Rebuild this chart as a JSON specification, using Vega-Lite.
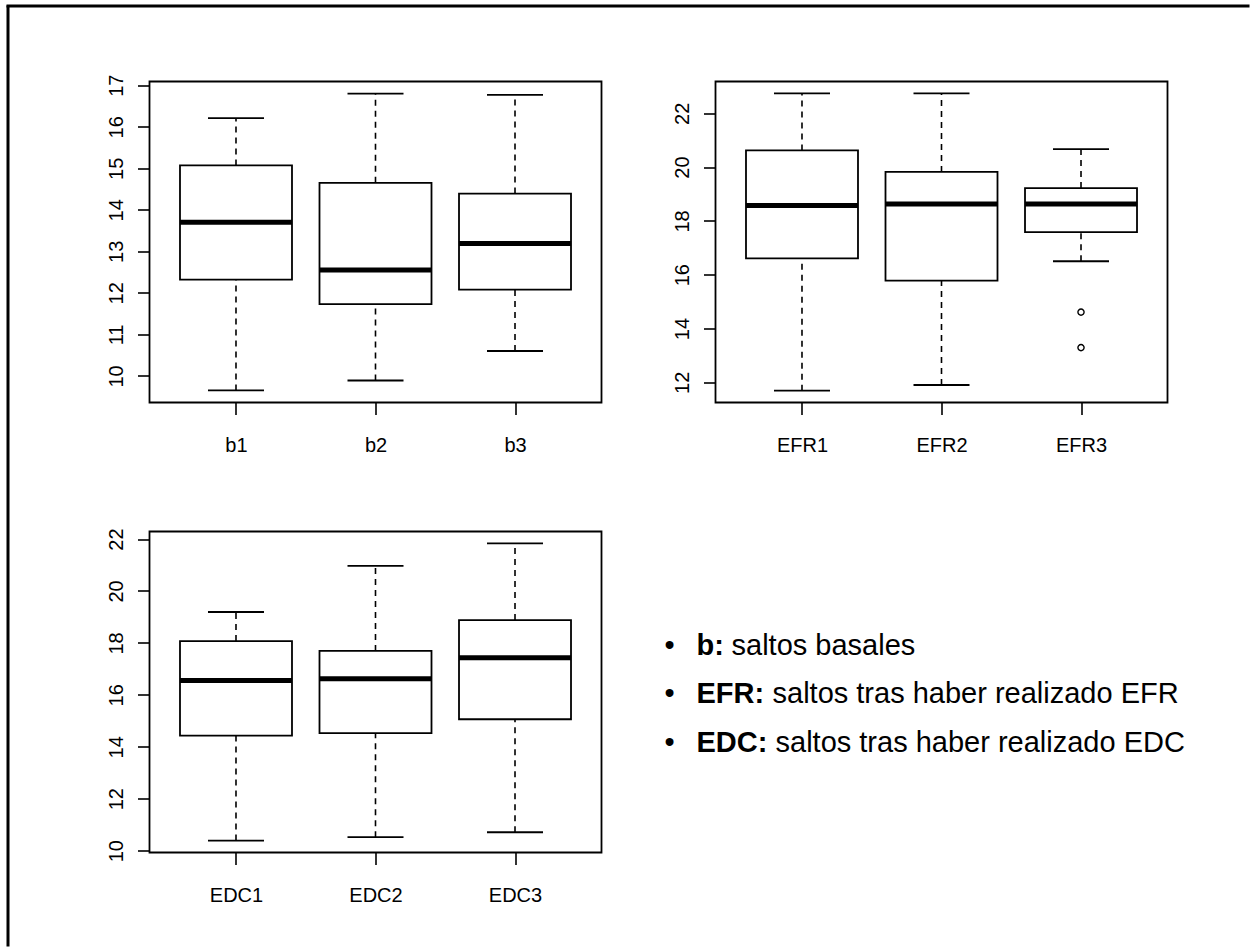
{
  "$schema": "https://vega.github.io/schema/vega-lite/v6.json",
  "padding": {"left": 6.5, "top": 4.5, "right": 0, "bottom": 0},
  "background": "white",
  "datasets": {
    "b": [
      {"group": "b1", "lo": 9.65, "q1": 12.32, "med": 13.70, "q3": 15.07, "hi": 16.21},
      {"group": "b2", "lo": 9.89, "q1": 11.73, "med": 12.55, "q3": 14.65, "hi": 16.80},
      {"group": "b3", "lo": 10.60, "q1": 12.08, "med": 13.19, "q3": 14.39, "hi": 16.77}
    ],
    "efr": [
      {"group": "EFR1", "lo": 11.69, "q1": 16.61, "med": 18.57, "q3": 20.62, "hi": 22.74},
      {"group": "EFR2", "lo": 11.90, "q1": 15.78, "med": 18.63, "q3": 19.82, "hi": 22.74},
      {"group": "EFR3", "lo": 16.50, "q1": 17.58, "med": 18.63, "q3": 19.22, "hi": 20.67}
    ],
    "efr_out": [
      {"group": "EFR3", "value": 14.61},
      {"group": "EFR3", "value": 13.29}
    ],
    "edc": [
      {"group": "EDC1", "lo": 10.39, "q1": 14.43, "med": 16.55, "q3": 18.07, "hi": 19.19},
      {"group": "EDC2", "lo": 10.52, "q1": 14.53, "med": 16.62, "q3": 17.69, "hi": 20.97},
      {"group": "EDC3", "lo": 10.71, "q1": 15.06, "med": 17.43, "q3": 18.88, "hi": 21.83}
    ],
    "notes": [
      {"line": 1, "label": "b:", "desc": "saltos basales"},
      {"line": 2, "label": "EFR:", "desc": "saltos tras haber realizado EFR"},
      {"line": 3, "label": "EDC:", "desc": "saltos tras haber realizado EDC"}
    ],
    "blank": [{"k": 0}]
  },
  "bounds": "flush",
  "spacing": 0,
  "vconcat": [
    {
      "width": 1241, "height": 1,
      "view": {"stroke": "black", "strokeWidth": 2, "fill": "black"},
      "data": {"name": "blank"},
      "mark": {"type": "point", "opacity": 0, "size": 0}
    },
    {
      "bounds": "flush",
      "spacing": 141,
      "hconcat": [
        {
          "width": 1, "height": 939,
          "view": {"stroke": "black", "strokeWidth": 2, "fill": "black"},
          "data": {"name": "blank"},
          "mark": {"type": "point", "opacity": 0, "size": 0}
        },
        {
          "bounds": "flush",
          "spacing": 74,
          "vconcat": [
            {
              "width": 1, "height": 1,
              "view": {"stroke": null, "fill": null},
              "data": {"name": "blank"},
              "mark": {"type": "point", "opacity": 0, "size": 0}
            },
            {
              "columns": 2,
              "bounds": "flush",
              "spacing": {"row": 129, "column": 114},
              "concat": [
                {
                  "width": 452, "height": 321,
                  "data": {"name": "b"},
                  "encoding": {"x": {"field": "group", "type": "nominal", "scale": {"type": "point", "padding": 0.62}, "axis": {"title": null}}},
                  "layer": [
                    {"mark": {"type": "rule", "strokeDash": [6, 5], "strokeWidth": 1.6, "color": "black"},
                     "encoding": {"y": {"field": "lo", "type": "quantitative", "scale": {"domain": [9.36, 17.09], "nice": false, "zero": false}, "axis": {"values": [10, 11, 12, 13, 14, 15, 16, 17], "title": null}}, "y2": {"field": "q1"}}},
                    {"mark": {"type": "rule", "strokeDash": [6, 5], "strokeWidth": 1.6, "color": "black"},
                     "encoding": {"y": {"field": "q3", "type": "quantitative"}, "y2": {"field": "hi"}}},
                    {"mark": {"type": "tick", "orient": "horizontal", "size": 56, "thickness": 1.8, "color": "black", "opacity": 1},
                     "encoding": {"y": {"field": "lo", "type": "quantitative"}}},
                    {"mark": {"type": "tick", "orient": "horizontal", "size": 56, "thickness": 1.8, "color": "black", "opacity": 1},
                     "encoding": {"y": {"field": "hi", "type": "quantitative"}}},
                    {"mark": {"type": "bar", "width": 112, "fill": "white", "stroke": "black", "strokeWidth": 1.8, "opacity": 1},
                     "encoding": {"y": {"field": "q1", "type": "quantitative"}, "y2": {"field": "q3"}}},
                    {"mark": {"type": "tick", "orient": "horizontal", "size": 112, "thickness": 5, "color": "black", "opacity": 1},
                     "encoding": {"y": {"field": "med", "type": "quantitative"}}}
                  ]
                },
                {
                  "width": 452, "height": 321,
                  "encoding": {"x": {"field": "group", "type": "nominal", "scale": {"type": "point", "padding": 0.62}, "axis": {"title": null}}},
                  "layer": [
                    {"data": {"name": "efr"}, "mark": {"type": "rule", "strokeDash": [6, 5], "strokeWidth": 1.6, "color": "black"},
                     "encoding": {"y": {"field": "lo", "type": "quantitative", "scale": {"domain": [11.25, 23.18], "nice": false, "zero": false}, "axis": {"values": [12, 14, 16, 18, 20, 22], "title": null}}, "y2": {"field": "q1"}}},
                    {"data": {"name": "efr"}, "mark": {"type": "rule", "strokeDash": [6, 5], "strokeWidth": 1.6, "color": "black"},
                     "encoding": {"y": {"field": "q3", "type": "quantitative"}, "y2": {"field": "hi"}}},
                    {"data": {"name": "efr"}, "mark": {"type": "tick", "orient": "horizontal", "size": 56, "thickness": 1.8, "color": "black", "opacity": 1},
                     "encoding": {"y": {"field": "lo", "type": "quantitative"}}},
                    {"data": {"name": "efr"}, "mark": {"type": "tick", "orient": "horizontal", "size": 56, "thickness": 1.8, "color": "black", "opacity": 1},
                     "encoding": {"y": {"field": "hi", "type": "quantitative"}}},
                    {"data": {"name": "efr"}, "mark": {"type": "bar", "width": 112, "fill": "white", "stroke": "black", "strokeWidth": 1.8, "opacity": 1},
                     "encoding": {"y": {"field": "q1", "type": "quantitative"}, "y2": {"field": "q3"}}},
                    {"data": {"name": "efr"}, "mark": {"type": "tick", "orient": "horizontal", "size": 112, "thickness": 5, "color": "black", "opacity": 1},
                     "encoding": {"y": {"field": "med", "type": "quantitative"}}},
                    {"data": {"name": "efr_out"}, "mark": {"type": "point", "shape": "circle", "filled": false, "size": 38, "strokeWidth": 1.4, "color": "black", "opacity": 1},
                     "encoding": {"y": {"field": "value", "type": "quantitative"}}}
                  ]
                },
                {
                  "width": 452, "height": 321,
                  "data": {"name": "edc"},
                  "encoding": {"x": {"field": "group", "type": "nominal", "scale": {"type": "point", "padding": 0.62}, "axis": {"title": null}}},
                  "layer": [
                    {"mark": {"type": "rule", "strokeDash": [6, 5], "strokeWidth": 1.6, "color": "black"},
                     "encoding": {"y": {"field": "lo", "type": "quantitative", "scale": {"domain": [9.93, 22.29], "nice": false, "zero": false}, "axis": {"values": [10, 12, 14, 16, 18, 20, 22], "title": null}}, "y2": {"field": "q1"}}},
                    {"mark": {"type": "rule", "strokeDash": [6, 5], "strokeWidth": 1.6, "color": "black"},
                     "encoding": {"y": {"field": "q3", "type": "quantitative"}, "y2": {"field": "hi"}}},
                    {"mark": {"type": "tick", "orient": "horizontal", "size": 56, "thickness": 1.8, "color": "black", "opacity": 1},
                     "encoding": {"y": {"field": "lo", "type": "quantitative"}}},
                    {"mark": {"type": "tick", "orient": "horizontal", "size": 56, "thickness": 1.8, "color": "black", "opacity": 1},
                     "encoding": {"y": {"field": "hi", "type": "quantitative"}}},
                    {"mark": {"type": "bar", "width": 112, "fill": "white", "stroke": "black", "strokeWidth": 1.8, "opacity": 1},
                     "encoding": {"y": {"field": "q1", "type": "quantitative"}, "y2": {"field": "q3"}}},
                    {"mark": {"type": "tick", "orient": "horizontal", "size": 112, "thickness": 5, "color": "black", "opacity": 1},
                     "encoding": {"y": {"field": "med", "type": "quantitative"}}}
                  ]
                },
                {
                  "width": 452, "height": 321,
                  "view": {"stroke": null},
                  "data": {"name": "notes"},
                  "encoding": {"y": {"field": "line", "type": "quantitative", "scale": {"domain": [-1.536, 5.082], "reverse": true, "nice": false, "zero": false}, "axis": null}},
                  "layer": [
                    {"mark": {"type": "text", "text": "•", "align": "center", "baseline": "alphabetic", "fontSize": 29, "font": "Liberation Sans", "color": "black", "x": -46}},
                    {"mark": {"type": "text", "align": "left", "baseline": "alphabetic", "fontSize": 29, "fontWeight": "bold", "font": "Liberation Sans", "color": "black", "x": -19},
                     "encoding": {"text": {"field": "label"}}},
                    {"transform": [{"filter": "datum.line == 1"}],
                     "mark": {"type": "text", "align": "left", "baseline": "alphabetic", "fontSize": 29, "font": "Liberation Sans", "color": "black", "x": 16},
                     "encoding": {"text": {"field": "desc"}}},
                    {"transform": [{"filter": "datum.line == 2"}],
                     "mark": {"type": "text", "align": "left", "baseline": "alphabetic", "fontSize": 29, "font": "Liberation Sans", "color": "black", "x": 57},
                     "encoding": {"text": {"field": "desc"}}},
                    {"transform": [{"filter": "datum.line == 3"}],
                     "mark": {"type": "text", "align": "left", "baseline": "alphabetic", "fontSize": 29, "font": "Liberation Sans", "color": "black", "x": 60},
                     "encoding": {"text": {"field": "desc"}}}
                  ]
                }
              ]
            }
          ]
        }
      ]
    }
  ],
  "config": {
    "font": "Liberation Sans",
    "view": {"stroke": "black", "strokeWidth": 1.8},
    "axis": {"domain": false, "grid": false, "tickColor": "black", "tickSize": 12, "tickWidth": 1.6, "labelFont": "Liberation Sans", "labelFontSize": 20, "labelColor": "black", "labelFlush": false, "labelOverlap": false, "labelBound": false, "title": null},
    "axisY": {"labelAngle": 270, "labelAlign": "center", "labelBaseline": "alphabetic", "labelPadding": 15},
    "axisX": {"labelAngle": 0, "labelAlign": "center", "labelBaseline": "alphabetic", "labelPadding": 37}
  }
}
